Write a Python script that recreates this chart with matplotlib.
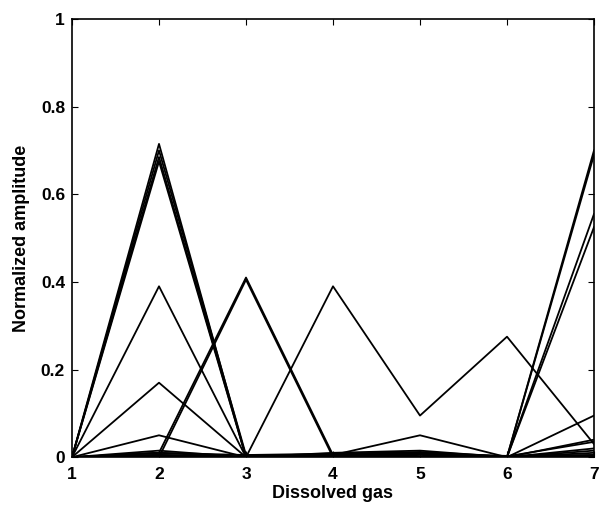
import numpy as np
import matplotlib.pyplot as plt

plt.rcParams['font.family'] = ['Liberation Sans', 'DejaVu Sans']
plt.rcParams['font.weight'] = 'bold'

gas = [1, 2, 3, 4, 5, 6, 7]

# normalized amplitude of each sample over the 7 dissolved gases
peak2_a = [0, 0.715, 0, 0, 0, 0, 0]
peak2_b = [0, 0.700, 0.005, 0, 0, 0, 0]
peak2_c = [0, 0.685, 0, 0, 0, 0, 0]
peak2_d = [0, 0.675, 0, 0, 0, 0, 0]
peak2_e = [0, 0.39, 0, 0, 0, 0, 0]
peak2_f = [0, 0.17, 0, 0, 0, 0, 0]
peak3_a = [0, 0.01, 0.41, 0.005, 0.01, 0, 0.005]
peak3_b = [0, 0.0, 0.405, 0.0, 0.0, 0, 0.0]
zigzag = [0, 0, 0, 0.39, 0.095, 0.275, 0.03]
peak7_a = [0, 0.005, 0, 0, 0.01, 0, 0.70]
peak7_b = [0, 0.005, 0, 0, 0.005, 0, 0.69]
peak7_c = [0, 0, 0, 0, 0, 0, 0.555]
peak7_d = [0, 0, 0, 0, 0, 0, 0.525]
low_a = [0, 0.05, 0, 0.005, 0.05, 0, 0.04]
low_b = [0, 0.01, 0, 0.005, 0.01, 0, 0.095]
low_c = [0, 0.015, 0, 0.005, 0.01, 0, 0.02]
low_d = [0, 0.005, 0, 0.01, 0.015, 0, 0.01]
low_e = [0, 0.01, 0.005, 0.008, 0.012, 0.002, 0.035]
low_f = [0, 0.003, 0.002, 0.006, 0.008, 0.003, 0.005]
low_g = [0, 0.002, 0.0, 0.004, 0.006, 0.0, 0.015]

samples = [peak2_a, peak2_b, peak2_c, peak2_d, peak2_e, peak2_f,
           peak3_a, peak3_b, zigzag, peak7_a, peak7_b, peak7_c, peak7_d,
           low_a, low_b, low_c, low_d, low_e, low_f, low_g]

fig = plt.figure(figsize=(6, 5.08), dpi=100)
ax = fig.add_axes([0.12, 0.10, 0.87, 0.8626])

for s in samples:
    ax.plot(gas, s, color='black', linewidth=1.3)

ax.set_xlim(1, 7)
ax.set_ylim(0, 1)
ax.set_xticks(gas)
ax.set_yticks([0, 0.2, 0.4, 0.6, 0.8, 1])
ax.set_yticklabels(['0', '0.2', '0.4', '0.6', '0.8', '1'])
ax.tick_params(direction='in', length=4, top=True, right=True, labelsize=12.5)
ax.tick_params(axis='x', pad=7)
ax.tick_params(axis='y', pad=5)
for sp in ax.spines.values():
    sp.set_linewidth(1.2)

ax.set_xlabel('Dissolved gas', fontsize=13, fontweight='bold', labelpad=2)
ax.set_ylabel('Normalized amplitude', fontsize=13, fontweight='bold', labelpad=8)

fig.savefig('out.png', dpi=100)
